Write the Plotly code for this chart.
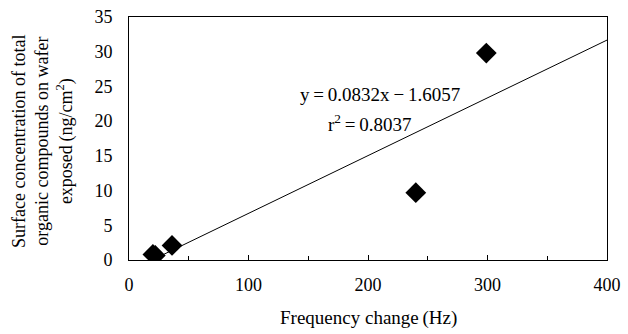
import plotly.graph_objects as go

freq_hz = [20, 22, 36, 240, 299]
surface_conc = [0.8, 0.65, 2.1, 9.7, 29.8]
slope = 0.0832
intercept = -1.6057
fit_x = [20, 400]
fit_y = [slope * x + intercept for x in fit_x]

x_ticks = [0, 100, 200, 300, 400]
y_ticks = [0, 5, 10, 15, 20, 25, 30, 35]

font = "Liberation Serif, Times New Roman, serif"

fig = go.Figure()
fig.add_trace(go.Scatter(x=fit_x, y=fit_y, mode="lines",
                         line=dict(color="black", width=1), showlegend=False))
fig.add_trace(go.Scatter(x=freq_hz, y=surface_conc, mode="markers",
                         marker=dict(symbol="diamond", size=16, color="black"),
                         showlegend=False))

fig.add_annotation(x=210, y=23.8, text="y\u2009=\u20090.0832x\u2009\u2212\u20091.6057",
                   showarrow=False, font=dict(family=font, size=19, color="black"))
fig.add_annotation(x=202, y=19.8, text="r<sup>2</sup>\u2009=\u20090.8037",
                   showarrow=False, font=dict(family=font, size=19, color="black"))

# axis titles placed as paper annotations
fig.add_annotation(xref="paper", yref="paper", x=-0.18, y=0.49, textangle=-90,
                   text="Surface concentration of total<br>organic compounds on wafer<br>exposed\u2009(ng/cm<sup>2</sup>)",
                   showarrow=False, xanchor="center", yanchor="middle",
                   font=dict(family=font, size=18, color="black"))
fig.add_annotation(xref="paper", yref="paper", x=0.5, y=-0.239,
                   text="Frequency change\u2009(Hz)", showarrow=False,
                   xanchor="center", yanchor="middle",
                   font=dict(family=font, size=19, color="black"))

fig.update_layout(
    width=628, height=334,
    margin=dict(l=129, r=21, t=17, b=74, autoexpand=False),
    paper_bgcolor="white", plot_bgcolor="white",
    font=dict(family=font, color="black"),
    xaxis=dict(range=[0, 400], tickvals=x_ticks, showgrid=False, zeroline=False,
               showline=True, linecolor="black", linewidth=1, mirror=True,
               ticks="inside", ticklen=5, tickcolor="black",
               minor=dict(dtick=50, ticks="inside", ticklen=4, tickcolor="black"),
               tickfont=dict(size=18), ticklabelstandoff=8, automargin=False),
    yaxis=dict(range=[0, 35], tickvals=y_ticks, showgrid=False, zeroline=False,
               showline=True, linecolor="black", linewidth=1, mirror=True,
               ticks="", tickfont=dict(size=18), ticklabelstandoff=12, automargin=False),
)

fig.write_html("out.html", config={"displayModeBar": False},
               post_script="document.body.style.margin='0';document.body.style.overflow='hidden';")
